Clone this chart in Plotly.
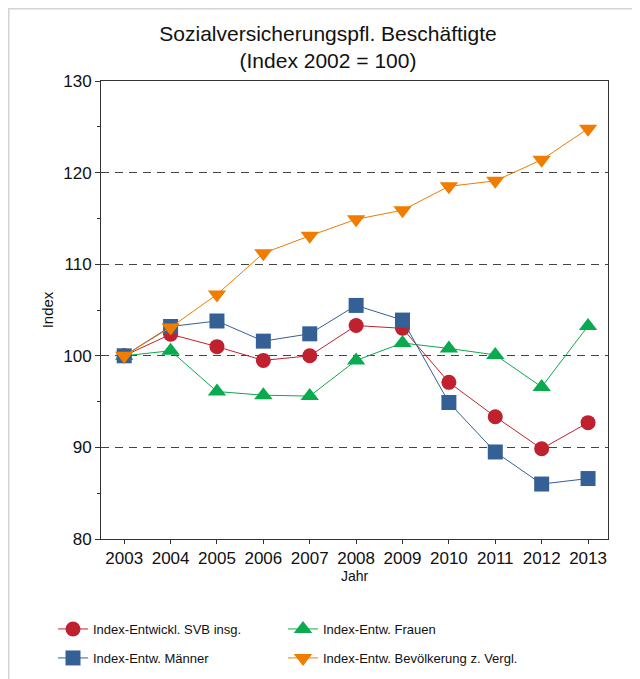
import plotly.graph_objects as go

years = [2003, 2004, 2005, 2006, 2007, 2008, 2009, 2010, 2011, 2012, 2013]
svb_insg = [100.0, 102.35, 101.0, 99.5, 100.0, 103.3, 103.0, 97.1, 93.35, 89.85, 92.7]
frauen = [100.0, 100.55, 96.1, 95.7, 95.6, 99.5, 101.4, 100.8, 100.1, 96.6, 103.25]
maenner = [100.0, 103.2, 103.8, 101.6, 102.4, 105.5, 103.9, 94.9, 89.5, 86.0, 86.6]
bevoelkerung = [100.0, 103.1, 106.7, 111.2, 113.1, 114.9, 115.9, 118.5, 119.1, 121.4, 124.8]

y_ticks = [80, 90, 100, 110, 120, 130]

W, H = 640, 679
OFF = 8  # page body offset
ML, MR, MT, MB = 101 - OFF, 640 - (608 - OFF), 81 - OFF, 679 - (539 - OFF)
PW, PH = W - ML - MR, H - MT - MB

def px_x(p):
    return (p - ML) / PW

def px_y(p):
    return 1 - (p - MT) / PH

FONT = "Liberation Sans, Arial, sans-serif"

fig = go.Figure()

# name, values, colour, symbol, size, legend id, legend position (figure px)
series = [
    ("Index-Entw. Frauen", frauen, "#0aaa4e", "triangle-up", 16, "legend2", (275, 606)),
    ("Index-Entwickl. SVB insg.", svb_insg, "#c0212f", "circle", 15, "legend", (45, 606)),
    ("Index-Entw. Männer", maenner, "#356096", "square", 15, "legend3", (45, 635)),
    ("Index-Entw. Bevölkerung z. Vergl.", bevoelkerung, "#f07c00", "triangle-down", 16, "legend4", (275, 635)),
]
legends = {}
for name, vals, col, sym, sz, lg, pos in series:
    fig.add_trace(go.Scatter(
        x=years, y=vals, name=name, mode="lines+markers",
        line=dict(color=col, width=1),
        marker=dict(symbol=sym, size=sz, color=col, line=dict(width=0)),
        legend=lg,
    ))
    legends[lg] = dict(
        x=px_x(pos[0]), y=px_y(pos[1]), xanchor="left", yanchor="top",
        orientation="h",
        font=dict(size=13, family=FONT, color="#111111"),
        bgcolor="rgba(0,0,0,0)", itemwidth=30,
    )

# outer light-gray frame (top and left edges visible)
fig.add_shape(type="line", xref="paper", yref="paper",
              x0=px_x(0), x1=px_x(700), y0=px_y(0.5), y1=px_y(0.5),
              line=dict(color="#d4d4d4", width=2))
fig.add_shape(type="line", xref="paper", yref="paper",
              x0=px_x(0.5), x1=px_x(0.5), y0=px_y(0), y1=px_y(720),
              line=dict(color="#d4d4d4", width=2))

fig.update_layout(
    width=W, height=H,
    margin=dict(l=ML, r=MR, t=MT, b=MB),
    paper_bgcolor="white", plot_bgcolor="white",
    font=dict(family=FONT, color="#111111"),
    title=dict(
        text="Sozialversicherungspfl. Beschäftigte<br>(Index 2002 = 100)",
        x=0.5, xanchor="center", xref="container",
        y=1 - 33 / H, yanchor="top",
        font=dict(size=21, family=FONT, color="#111111"),
    ),
    showlegend=True,
    **legends,
    xaxis=dict(
        range=[2002.5, 2013.43], tickmode="array", tickvals=years,
        ticktext=[str(y) for y in years],
        showgrid=False, zeroline=False,
        showline=True, linecolor="#333333", linewidth=1, mirror=True,
        ticks="outside", ticklen=4, tickcolor="#333333",
        tickfont=dict(size=17, family=FONT, color="#111111"),
        title=dict(text="Jahr", font=dict(size=14, family=FONT, color="#111111"), standoff=3),
    ),
    yaxis=dict(
        range=[80, 130], tickmode="array", tickvals=y_ticks,
        showgrid=True, gridcolor="#444444", gridwidth=1, griddash="8px,6px",
        zeroline=False,
        showline=True, linecolor="#333333", linewidth=1, mirror=True,
        ticks="outside", ticklen=5, tickcolor="#333333",
        minor=dict(ticks="outside", ticklen=3, dtick=5, tick0=80, tickcolor="#333333", showgrid=False),
        tickfont=dict(size=17, family=FONT, color="#111111"),
        title=dict(text="Index", font=dict(size=15, family=FONT, color="#111111"), standoff=5),
    ),
)

fig.write_html("out.html")
